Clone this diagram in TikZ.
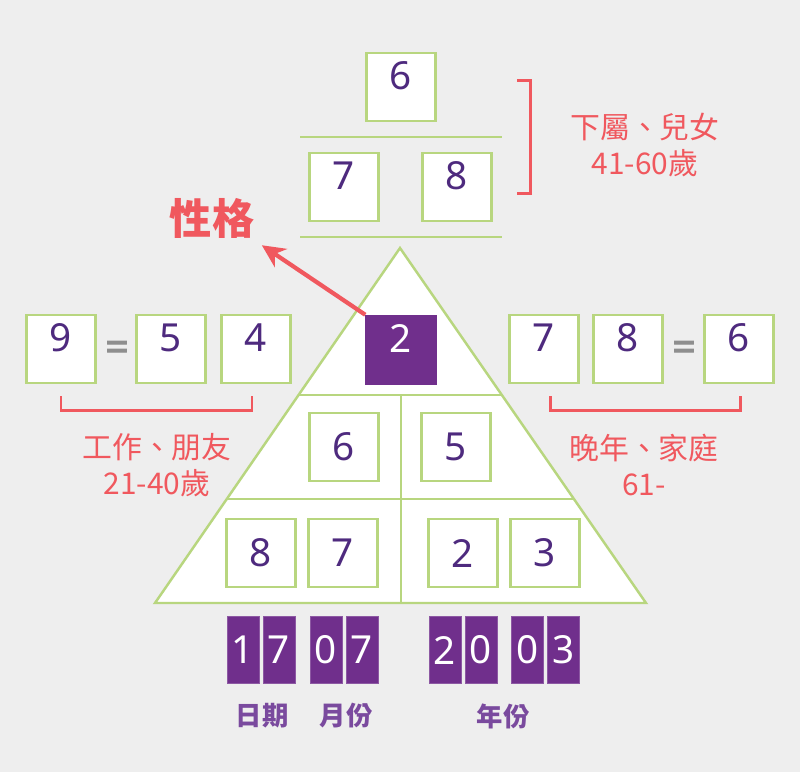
\documentclass[tikz,border=0pt]{standalone}
\usepackage{fontspec}
\setmainfont{Noto Sans}
\newfontfamily\cjk{Noto Sans CJK TC}
\newfontfamily\eqfont[FakeBold=3]{Noto Sans}
\usetikzlibrary{arrows.meta}

\definecolor{bggray}{HTML}{EEEEEE}
\definecolor{boxgreen}{HTML}{B8D67F}
\definecolor{numpurple}{HTML}{4E2A7E}
\definecolor{fillpurple}{HTML}{702F8C}
\definecolor{labelpurple}{HTML}{7A4A9E}
\definecolor{notered}{HTML}{F0585E}
\definecolor{eqgray}{HTML}{8E8E8E}

\tikzset{
	numbox/.style={draw=boxgreen, line width=1.4pt, fill=white, inner sep=0pt,
		minimum width=1.38cm, minimum height=1.36cm, text=numpurple,
		font=\fontsize{22}{22}\selectfont},
	highbox/.style={numbox, text height=0.72cm, text depth=0.64cm},
	darkbox/.style={highbox, draw=fillpurple, fill=fillpurple, text=white},
	digitbox/.style={fill=fillpurple, draw=fillpurple!80!white, line width=0.4pt, inner sep=0pt,
		minimum width=0.64cm, minimum height=1.34cm, text=white,
		font=\fontsize{22}{22}\selectfont},
	eqsign/.style={text=eqgray, font=\eqfont\fontsize{23}{23}\selectfont},
	greenline/.style={draw=boxgreen, line width=1.4pt},
	bracket/.style={draw=notered, line width=1.7pt},
	agetext/.style={text=notered, align=center, font=\cjk\fontsize{17}{20.5}\selectfont},
	partlabel/.style={text=labelpurple, font=\cjk\bfseries\fontsize{15}{15}\selectfont}
}

\begin{document}
\begin{tikzpicture}[x=0.02cm, y=-0.02cm]
%
% birth chart pyramid for 17.07.2003

%% background
\fill[bggray] (0,0) rectangle (800,772);

%% top part
\node[highbox] (top6) at (401,87) {6};
\draw[greenline] (300,137) -- (502,137);
\node[highbox] (top7) at (344,187) {7};
\node[highbox] (top8) at (457,187) {8};
\draw[greenline] (300,237) -- (502,237);
\draw[bracket] (517,80) -- (530,80) -- (530,193) -- (517,193);
	\node[agetext] (subtext) at (645,145) {下屬、兒女\\41-60歲};

%% pyramid
\draw[greenline, fill=white] (400,248) -- (646,603) -- (155,603) -- cycle;
\draw[greenline] (298.6,395) -- (501.4,395);
\draw[greenline] (227,499) -- (573,499);
\draw[greenline] (401,395) -- (401,603);
\node[darkbox] (mid2) at (401,350) {2};
\node[numbox] (mid6) at (344,447) {6};
\node[numbox] (mid5) at (456,447) {5};
\node[numbox] (low8) at (261,553) {8};
\node[numbox] (low7) at (343,553) {7};
\node[numbox] (low2) at (463,553) {2};
\node[numbox] (low3) at (545,553) {3};

%% character arrow
\node[text=notered, font=\cjk\bfseries\fontsize{24}{24}\selectfont] (trait) at (212,218) {性格};
\draw[notered, line width=2.4pt, -{Stealth[length=0.46cm, width=0.44cm]}, shorten >=1pt]
	(mid2.north west) -- (trait.south east);

%% left side
\node[highbox] (left9) at (61,349) {9};
	\node[eqsign] (lefteq) at (117,351) {=};
\node[highbox] (left5) at (171,349) {5};
\node[highbox] (left4) at (256,349) {4};
\draw[bracket] (61,396) -- (61,410) -- (252,410) -- (252,396);
	\node[agetext] (worktext) at (157,465) {工作、朋友\\21-40歲};

%% right side
\node[highbox] (right7) at (544,349) {7};
\node[highbox] (right8) at (628,349) {8};
	\node[eqsign] (righteq) at (684,351) {=};
\node[highbox] (right6) at (739,349) {6};
\draw[bracket] (550,396) -- (550,410) -- (740,410) -- (740,396);
	\node[agetext] (latetext) at (644,465) {晚年、家庭\\61-};

%% birth date
\node[digitbox] (day1) at (243,650) {1};
\node[digitbox] (day2) at (279,650) {7};
\node[digitbox] (mon1) at (326,650) {0};
\node[digitbox] (mon2) at (362,650) {7};
\node[digitbox] (year1) at (445,650) {2};
\node[digitbox] (year2) at (481,650) {0};
\node[digitbox] (year3) at (527.5,650) {0};
\node[digitbox] (year4) at (563.5,650) {3};
	\node[partlabel] (daylabel) at (262,716) {日期};
	\node[partlabel] (monlabel) at (346,716) {月份};
	\node[partlabel] (yearlabel) at (503,716) {年份};
\end{tikzpicture}
\end{document}
